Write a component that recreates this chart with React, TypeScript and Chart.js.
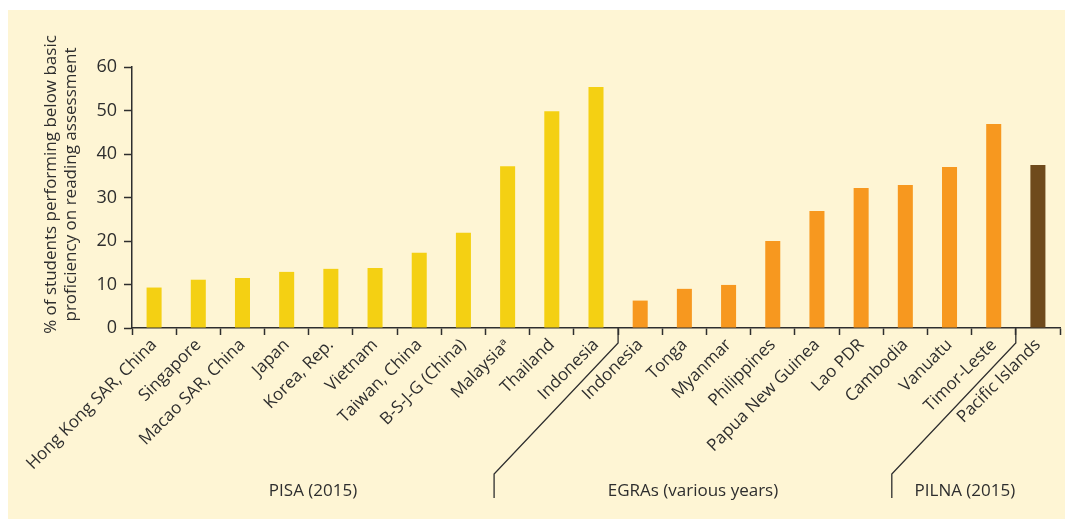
import React, { useEffect, useRef } from "react";
import { Chart, registerables } from "chart.js";

Chart.register(...registerables);

const categories = [
  "Hong Kong SAR, China",
  "Singapore",
  "Macao SAR, China",
  "Japan",
  "Korea, Rep.",
  "Vietnam",
  "Taiwan, China",
  "B-S-J-G (China)",
  "Malaysiaᵃ",
  "Thailand",
  "Indonesia",
  "Indonesia",
  "Tonga",
  "Myanmar",
  "Philippines",
  "Papua New Guinea",
  "Lao PDR",
  "Cambodia",
  "Vanuatu",
  "Timor-Leste",
  "Pacific Islands",
];

const values = [
  9.3, 11.1, 11.5, 12.9, 13.6, 13.8, 17.3, 21.9, 37.2, 49.8, 55.4,
  6.3, 9.0, 9.9, 20.0, 26.9, 32.2, 32.9, 37.0, 46.9,
  37.5,
];

const groupNames = ["PISA (2015)", "EGRAs (various years)", "PILNA (2015)"];
const groupSizes = [11, 9, 1];
const groupColors = ["#F4D013", "#F7981F", "#6F4A1C"];

const yTitleLines = [
  "% of students performing below basic",
  "proficiency on reading assessment",
];

const Y_MIN = 0;
const Y_MAX = 60;
const Y_STEP = 10;

const BG = "#FEF5D4";
const INK = "#2E2E2E";
const FONT = "'Open Sans', 'DejaVu Sans', sans-serif";

const barColors: string[] = [];
groupSizes.forEach((n, g) => {
  for (let i = 0; i < n; i++) barColors.push(groupColors[g]);
});

const decorPlugin = {
  id: "decor",
  beforeDraw(chart: any) {
    const { ctx, width, height } = chart;
    ctx.save();
    ctx.fillStyle = BG;
    ctx.fillRect(0, 0, width, height);
    ctx.restore();
  },
  afterDraw(chart: any) {
    const { ctx, chartArea } = chart;
    const xs = chart.scales.x;
    ctx.save();
    ctx.strokeStyle = INK;
    ctx.lineWidth = 1.3;
    const bracketBottoms: number[] = [];
    let idx = 0;
    for (let g = 0; g < groupSizes.length - 1; g++) {
      idx += groupSizes[g];
      const x0 = (xs.getPixelForValue(idx - 1) + xs.getPixelForValue(idx)) / 2;
      const yb = chartArea.bottom;
      const xb = x0 - 124;
      ctx.beginPath();
      ctx.moveTo(x0, yb);
      ctx.lineTo(x0, yb + 15);
      ctx.lineTo(xb, yb + 146);
      ctx.lineTo(xb, yb + 170);
      ctx.stroke();
      bracketBottoms.push(xb);
    }
    ctx.fillStyle = INK;
    ctx.font = `17px ${FONT}`;
    ctx.textAlign = "center";
    ctx.textBaseline = "middle";
    const edges = [chartArea.left, ...bracketBottoms, chartArea.right - 22];
    for (let g = 0; g < groupNames.length; g++) {
      ctx.fillText(groupNames[g], (edges[g] + edges[g + 1]) / 2, chartArea.bottom + 163);
    }
    ctx.font = `17px ${FONT}`;
    ctx.translate(43, (chartArea.top + chartArea.bottom) / 2 - 13);
    ctx.rotate(-Math.PI / 2);
    yTitleLines.forEach((line, i) => {
      ctx.fillText(line, 0, i * 20);
    });
    ctx.restore();
  },
};

export default function App() {
  const ref = useRef<HTMLCanvasElement | null>(null);

  useEffect(() => {
    document.body.style.margin = "0";
    if (!ref.current) return;
    const chart = new Chart(ref.current, {
      type: "bar",
      data: {
        labels: categories,
        datasets: [
          {
            data: values,
            backgroundColor: barColors,
            barPercentage: 0.34,
            categoryPercentage: 1,
          },
        ],
      },
      options: {
        animation: false,
        responsive: false,
        maintainAspectRatio: false,
        layout: { padding: { top: 57, right: 5, left: 0, bottom: 0 } },
        plugins: {
          legend: { display: false },
          tooltip: { enabled: false },
          title: { display: false },
        },
        scales: {
          x: {
            afterFit: (s: any) => {
              s.height = 191;
            },
            border: { display: true, color: INK, width: 1.5 },
            grid: {
              offset: true,
              drawOnChartArea: false,
              drawTicks: true,
              tickLength: 7,
              tickColor: INK,
              tickWidth: 1.5,
            },
            ticks: {
              autoSkip: false,
              maxRotation: 45,
              minRotation: 45,
              color: INK,
              padding: 0,
              font: { family: FONT, size: 17 },
            },
          },
          y: {
            min: Y_MIN,
            max: Y_MAX,
            afterFit: (s: any) => {
              s.width = 124;
            },
            border: { display: true, color: INK, width: 1.5 },
            grid: {
              drawOnChartArea: false,
              drawTicks: true,
              tickLength: 8,
              tickColor: INK,
              tickWidth: 1.5,
            },
            ticks: {
              stepSize: Y_STEP,
              color: INK,
              padding: 7,
              font: { family: FONT, size: 18 },
            },
          },
        },
      },
      plugins: [decorPlugin],
    });
    return () => chart.destroy();
  }, []);

  return (
    <div
      style={{
        position: "absolute",
        left: 8,
        top: 10,
        width: 1057,
        height: 509,
        background: BG,
      }}
    >
      <canvas ref={ref} width={1057} height={509} />
    </div>
  );
}
